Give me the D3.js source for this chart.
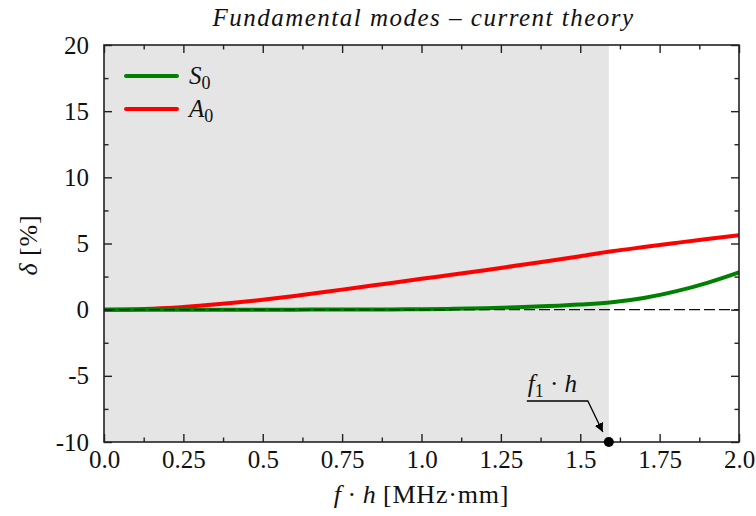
<!DOCTYPE html>
<html><head><meta charset="utf-8">
<script src="https://cdn.jsdelivr.net/npm/d3@7"></script>
<style>
html,body{margin:0;padding:0;background:#fff;}
svg text{font-family:"Liberation Serif","DejaVu Serif",serif;fill:#111;}
</style></head>
<body><svg id="c" width="756" height="516"></svg>
<script>
// ---- data ----
const fh      = [0.0,0.1,0.2,0.3,0.4,0.5,0.6,0.7,0.8,0.9,1.0,1.1,1.2,1.3,1.4,1.5,1.6,1.7,1.8,1.9,2.0];
const deltaA0 = [0.0,0.03,0.12,0.29,0.5,0.75,1.03,1.35,1.68,2.0,2.33,2.65,2.98,3.33,3.68,4.04,4.41,4.73,5.04,5.34,5.62];
const deltaS0 = [0.0,0.0,0.0,0.0,0.0,0.0,0.0,0.01,0.01,0.02,0.03,0.06,0.11,0.18,0.27,0.39,0.56,0.88,1.38,2.03,2.82];
const xTicks = [0,0.25,0.5,0.75,1.0,1.25,1.5,1.75,2.0];
const xTickLabels = ["0.0","0.25","0.5","0.75","1.0","1.25","1.5","1.75","2.0"];
const xMinorTicks = [0.125,0.375,0.625,0.875,1.125,1.375,1.625,1.875];
const yTicks = [-10,-5,0,5,10,15,20];
const yTickLabels = ["-10","-5","0","5","10","15","20"];
const yMinorTicks = [-7.5,-2.5,2.5,7.5,12.5,17.5];
const f1h = 1.59;
const title = "Fundamental modes \u2013 current theory";

// ---- layout ----
const L=104, R=739, T=45, B=442;
const FONT = '"Liberation Serif","DejaVu Serif",serif';
const svg = d3.select("#c");
const x = d3.scaleLinear().domain([0,2]).range([L,R]);
const y = d3.scaleLinear().domain([-10,20]).range([B,T]);

svg.append("defs").append("clipPath").attr("id","clip")
  .append("rect").attr("x",L).attr("y",T).attr("width",R-L).attr("height",B-T);

// shaded region
svg.append("rect").attr("x",x(0)).attr("y",T).attr("width",x(f1h)-x(0)).attr("height",B-T)
  .attr("fill","#e5e5e5");

const g = svg.append("g").attr("clip-path","url(#clip)");
const line = d3.line().curve(d3.curveMonotoneX);
const colors = {S0:"#008000", A0:"#ff0000"};
g.append("path").attr("d", line(fh.map((v,i)=>[x(v),y(deltaA0[i])])))
  .attr("fill","none").attr("stroke",colors.A0).attr("stroke-width",4).attr("stroke-linecap","round");
g.append("path").attr("d", line(fh.map((v,i)=>[x(v),y(deltaS0[i])])))
  .attr("fill","none").attr("stroke",colors.S0).attr("stroke-width",4).attr("stroke-linecap","round");
// zero dashed line
g.append("line").attr("x1",x(0)).attr("x2",x(2)).attr("y1",y(0)).attr("y2",y(0))
  .attr("stroke","#111").attr("stroke-width",1.4).attr("stroke-dasharray","11,4");

// axes
function styleAxis(sel){ sel.attr("font-family",FONT); sel.select(".domain").remove(); sel.selectAll("line").attr("stroke","#222").attr("stroke-width",1.4); sel.selectAll("text").style("font-family",FONT).attr("font-size",25).attr("fill","#111"); }
const xa = svg.append("g").attr("transform",`translate(0,${B})`)
  .call(d3.axisBottom(x).tickValues(xTicks).tickFormat((d,i)=>xTickLabels[i]).tickSizeInner(-8).tickSizeOuter(0).tickPadding(8));
styleAxis(xa);
xa.selectAll("text").attr("dy","0.71em");
const xm = svg.append("g").attr("transform",`translate(0,${B})`)
  .call(d3.axisBottom(x).tickValues(xMinorTicks).tickFormat("").tickSizeInner(-4.5).tickSizeOuter(0));
styleAxis(xm);
const xt = svg.append("g").attr("transform",`translate(0,${T})`)
  .call(d3.axisTop(x).tickValues(xTicks).tickFormat("").tickSizeInner(-8).tickSizeOuter(0));
styleAxis(xt);
const xtm = svg.append("g").attr("transform",`translate(0,${T})`)
  .call(d3.axisTop(x).tickValues(xMinorTicks).tickFormat("").tickSizeInner(-4.5).tickSizeOuter(0));
styleAxis(xtm);

const ya = svg.append("g").attr("transform",`translate(${L},0)`)
  .call(d3.axisLeft(y).tickValues(yTicks).tickFormat((d,i)=>yTickLabels[i]).tickSizeInner(-8).tickSizeOuter(0).tickPadding(15));
styleAxis(ya);
const ym = svg.append("g").attr("transform",`translate(${L},0)`)
  .call(d3.axisLeft(y).tickValues(yMinorTicks).tickFormat("").tickSizeInner(-4.5).tickSizeOuter(0));
styleAxis(ym);
const yr = svg.append("g").attr("transform",`translate(${R},0)`)
  .call(d3.axisRight(y).tickValues(yTicks).tickFormat("").tickSizeInner(-8).tickSizeOuter(0));
styleAxis(yr);
const yrm = svg.append("g").attr("transform",`translate(${R},0)`)
  .call(d3.axisRight(y).tickValues(yMinorTicks).tickFormat("").tickSizeInner(-4.5).tickSizeOuter(0));
styleAxis(yrm);

// frame
svg.append("rect").attr("x",L).attr("y",T).attr("width",R-L).attr("height",B-T)
  .attr("fill","none").attr("stroke","#222").attr("stroke-width",1.6);

// title
svg.append("text").attr("x",(L+R)/2+2).attr("y",26).attr("text-anchor","middle")
  .attr("font-size",25).attr("font-style","italic").attr("letter-spacing",1.5).text(title);

// x label
const xl = svg.append("text").attr("x",(L+R)/2).attr("y",503).attr("text-anchor","middle").attr("font-size",26);
xl.append("tspan").attr("font-style","italic").text("f");
xl.append("tspan").text(" \u00B7 ");
xl.append("tspan").attr("font-style","italic").text("h");
xl.append("tspan").attr("letter-spacing",0.8).text(" [MHz\u00B7mm]");

// y label
const yl = svg.append("text").attr("transform","translate(37,245) rotate(-90)").attr("text-anchor","middle").attr("font-size",26);
yl.append("tspan").attr("font-style","italic").text("\u03B4");
yl.append("tspan").attr("letter-spacing",0.8).text(" [%]");

// legend
const leg = [{name:"S",sub:"0",c:colors.S0,yy:76},{name:"A",sub:"0",c:colors.A0,yy:109}];
leg.forEach(d=>{
  svg.append("line").attr("x1",126).attr("x2",177).attr("y1",d.yy).attr("y2",d.yy)
    .attr("stroke",d.c).attr("stroke-width",4).attr("stroke-linecap","round");
  const t = svg.append("text").attr("x",189).attr("y",d.yy+8).attr("font-size",25);
  t.append("tspan").attr("font-style","italic").text(d.name);
  t.append("tspan").attr("font-size",18).attr("dy",5).text(d.sub);
});

// f1*h annotation
const px = x(f1h), py = y(-10);
svg.append("defs").append("marker").attr("id","ah").attr("viewBox","0 0 10 10").attr("refX",10).attr("refY",5)
  .attr("markerWidth",9).attr("markerHeight",9).attr("markerUnits","userSpaceOnUse").attr("orient","auto")
  .append("path").attr("d","M0,0 L10,5 L0,10 z").attr("fill","#000");
svg.append("path").attr("d",`M${px-82},401 L${px-21},401 L${px-6},${py-10}`)
  .attr("fill","none").attr("stroke","#000").attr("stroke-width",1.3).attr("marker-end","url(#ah)");
svg.append("circle").attr("cx",px).attr("cy",py).attr("r",5).attr("fill","#000");
const fl = svg.append("text").attr("x",px-81).attr("y",392).attr("font-size",25);
fl.append("tspan").attr("font-style","italic").text("f");
fl.append("tspan").attr("font-size",18).attr("dy",5).text("1");
fl.append("tspan").attr("dy",-5).text(" \u00B7 ");
fl.append("tspan").attr("font-style","italic").text("h");
</script></body></html>
